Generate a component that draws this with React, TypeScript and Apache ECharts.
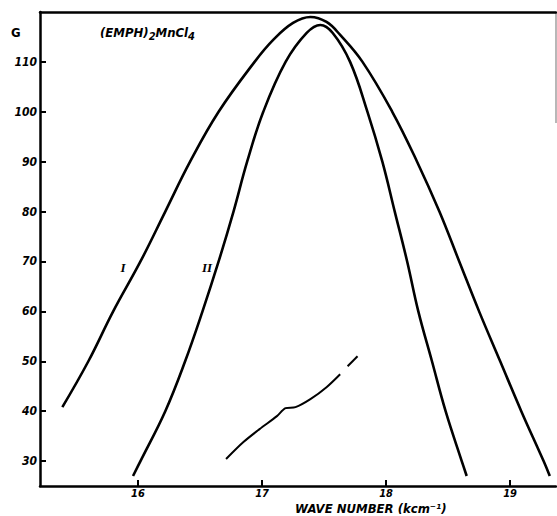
import React, { useEffect, useRef } from "react";
import * as echarts from "echarts";

const xTicks = [16, 17, 18, 19];
const yTicks = [30, 40, 50, 60, 70, 80, 90, 100, 110];

const curveI: [number, number][] = [
  [15.39, 40.8], [15.6, 50.0], [15.8, 60.0], [16.02, 70.0], [16.22, 80.0],
  [16.42, 90.0], [16.65, 100.0], [16.94, 110.0], [17.09, 114.4], [17.25, 117.8],
  [17.39, 119.0], [17.52, 118.0], [17.63, 115.4], [17.81, 110.0], [18.05, 100.0],
  [18.25, 90.0], [18.43, 80.0], [18.59, 70.0], [18.75, 60.0], [18.92, 50.0],
  [19.09, 40.0], [19.27, 30.0], [19.32, 27.0],
];

const curveII: [number, number][] = [
  [15.96, 27.0], [16.02, 30.0], [16.22, 40.0], [16.38, 50.0], [16.52, 60.0],
  [16.65, 70.0], [16.77, 80.0], [16.88, 90.0], [17.01, 100.0], [17.19, 110.0],
  [17.36, 115.8], [17.47, 117.4], [17.57, 115.8], [17.71, 110.0], [17.85, 100.0],
  [17.97, 90.0], [18.07, 80.0], [18.17, 70.0], [18.26, 60.0], [18.37, 50.0],
  [18.48, 40.0], [18.61, 30.0], [18.65, 27.0],
];

const curveIIIa: [number, number][] = [
  [16.71, 30.4], [16.85, 33.8], [16.98, 36.4], [17.12, 39.0], [17.19, 40.6],
  [17.27, 40.8], [17.39, 42.4], [17.52, 44.8], [17.63, 47.4],
];
const curveIIIb: [number, number][] = [[17.69, 49.0], [17.77, 51.0]];

const FONT = "DejaVu Sans Condensed";

export default function App() {
  const ref = useRef<HTMLDivElement>(null);
  useEffect(() => {
    document.body.style.margin = "0";
    const chart = echarts.init(ref.current!, undefined, { renderer: "svg" });
    const lineStyle = { color: "#000", width: 2.6 };
    const labelFont = {
      color: "#000",
      fontFamily: FONT,
      fontStyle: "italic",
      fontWeight: "bold",
      fontSize: 12,
    };
    chart.setOption({
      animation: false,
      backgroundColor: "#fff",
      grid: { left: 40, right: 1, top: 12, bottom: 30 },
      xAxis: [
        {
          type: "value",
          min: 15.21,
          max: 19.37,
          axisLine: { show: true, lineStyle: { color: "#000", width: 2.5 } },
          axisTick: { show: true, inside: true, length: 6, customValues: xTicks, lineStyle: { color: "#000", width: 2 } },
          axisLabel: { customValues: xTicks, margin: 2, ...labelFont, fontSize: 11 },
          splitLine: { show: false },
        },
        {
          type: "value",
          position: "top",
          min: 15.21,
          max: 19.37,
          axisLine: { show: true, lineStyle: { color: "#000", width: 2.5 } },
          axisTick: { show: false },
          axisLabel: { show: false },
          splitLine: { show: false },
        },
      ],
      yAxis: {
        type: "value",
        min: 25,
        max: 120,
        axisLine: { show: true, lineStyle: { color: "#000", width: 2.5 } },
        axisTick: { show: true, inside: true, length: 6, customValues: yTicks, lineStyle: { color: "#000", width: 2 } },
        axisLabel: { customValues: yTicks, margin: 3, ...labelFont },
        splitLine: { show: false },
      },
      graphic: [
        {
          type: "line",
          shape: { x1: 556, y1: 12, x2: 556, y2: 123 },
          style: { stroke: "#888", lineWidth: 1.2 },
        },
        {
          type: "text",
          x: 11,
          y: 32,
          style: { text: "G", fill: "#000", font: `bold 13px "${FONT}"`, textVerticalAlign: "middle" },
        },
        {
          type: "text",
          x: 100,
          y: 32,
          style: {
            text: "(EMPH){s|2}MnCl{s|4}",
            fill: "#000",
            font: `italic bold 13px "${FONT}"`,
            textVerticalAlign: "middle",
            rich: {
              s: {
                fontFamily: FONT,
                fontStyle: "italic",
                fontWeight: "bold",
                fontSize: 11,
                padding: [8, 0, 0, 0],
                fill: "#000",
              },
            },
          },
        },
        {
          type: "text",
          x: 295,
          y: 508,
          style: {
            text: "WAVE NUMBER (kcm⁻¹)",
            fill: "#000",
            font: `italic bold 13px "${FONT}"`,
            textVerticalAlign: "middle",
          },
        },
        {
          type: "text",
          x: 123,
          y: 267,
          style: { text: "I", fill: "#000", font: `italic bold 13px "Liberation Serif"`, textAlign: "center", textVerticalAlign: "middle" },
        },
        {
          type: "text",
          x: 207,
          y: 267,
          style: { text: "II", fill: "#000", font: `italic bold 13px "Liberation Serif"`, textAlign: "center", textVerticalAlign: "middle" },
        },
      ],
      series: [
        { type: "line", name: "I", data: curveI, smooth: 0.4, showSymbol: false, lineStyle },
        { type: "line", name: "II", data: curveII, smooth: 0.4, showSymbol: false, lineStyle },
        { type: "line", name: "IIIa", data: curveIIIa, smooth: 0.3, showSymbol: false, lineStyle: { color: "#000", width: 2 } },
        { type: "line", name: "IIIb", data: curveIIIb, smooth: false, showSymbol: false, lineStyle: { color: "#000", width: 2 } },
      ],
    });
    return () => chart.dispose();
  }, []);
  return <div ref={ref} style={{ width: 557, height: 516 }} />;
}
